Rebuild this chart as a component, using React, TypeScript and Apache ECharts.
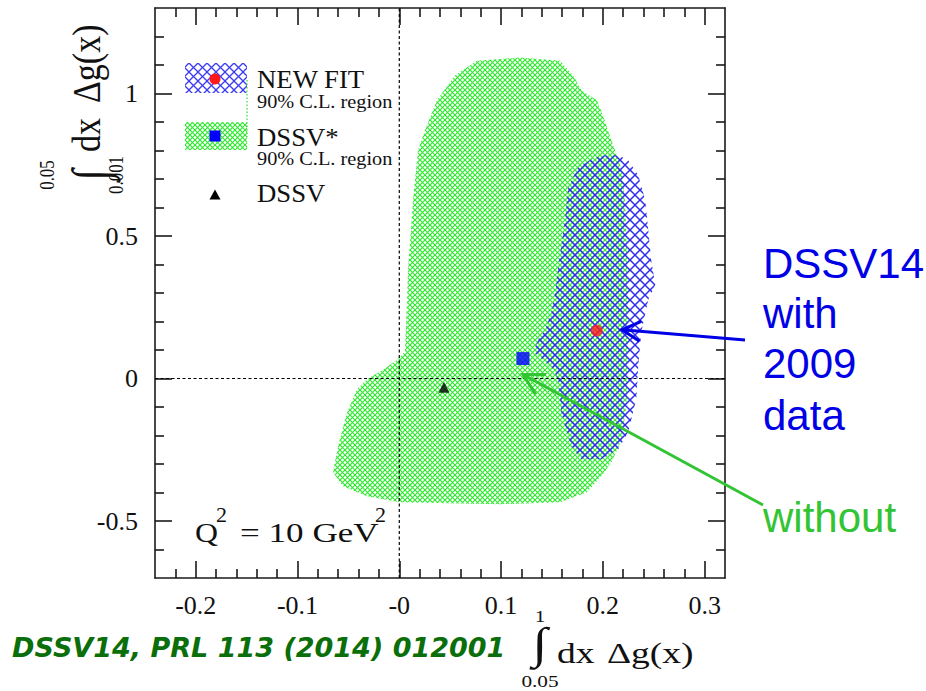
import React, { useEffect, useRef } from "react";
import * as echarts from "echarts";

// ---- axis ranges & ticks ----
const X_MIN = -0.24;
const X_MAX = 0.32;
const Y_MIN = -0.7;
const Y_MAX = 1.3;
const xMajorTicks = [-0.2, -0.1, 0, 0.1, 0.2, 0.3];
const xTickLabels = ["-0.2", "-0.1", "-0", "0.1", "0.2", "0.3"];
const xMinorTicks = [-0.22, -0.18, -0.16, -0.14, -0.12, -0.08, -0.06, -0.04, -0.02, 0.02, 0.04, 0.06, 0.08, 0.12, 0.14, 0.16, 0.18, 0.22, 0.24, 0.26, 0.28];
const yMajorTicks = [-0.5, 0, 0.5, 1];
const yTickLabels = ["-0.5", "0", "0.5", "1"];
const yMinorTicks = [-0.6, -0.4, -0.3, -0.2, -0.1, 0.1, 0.2, 0.3, 0.4, 0.6, 0.7, 0.8, 0.9, 1.1, 1.2];

// ---- DSSV* 90% C.L. region (green) ----
const greenX = [0.0763, 0.1186, 0.1579, 0.1707, 0.1795, 0.1942, 0.2001, 0.205, 0.2119, 0.2188, 0.2217, 0.2237, 0.2247, 0.2247, 0.2237, 0.2188, 0.2089, 0.2001, 0.1844, 0.1579, 0.0989, 0.0007, -0.0317, -0.0553, -0.0651, -0.0602, -0.0513, -0.0415, -0.0317, -0.016, -0.0023, 0.0056, 0.0076, 0.0085, 0.0115, 0.0135, 0.0184, 0.0253, 0.037, 0.0547];
const greenY = [1.115, 1.126, 1.115, 1.063, 1.01, 0.976, 0.923, 0.871, 0.801, 0.731, 0.626, 0.451, 0.276, 0.101, -0.073, -0.213, -0.29, -0.336, -0.399, -0.434, -0.441, -0.434, -0.413, -0.378, -0.329, -0.238, -0.119, -0.038, -0.003, 0.031, 0.066, 0.094, 0.276, 0.381, 0.521, 0.626, 0.801, 0.871, 0.976, 1.063];

// ---- NEW FIT 90% C.L. region (blue) ----
const blueX = [0.2023, 0.2151, 0.2249, 0.2348, 0.2416, 0.2446, 0.2475, 0.2515, 0.2446, 0.2377, 0.2348, 0.2328, 0.2249, 0.2151, 0.1984, 0.1788, 0.169, 0.1591, 0.1562, 0.1493, 0.1316, 0.1366, 0.1434, 0.1493, 0.1532, 0.1562, 0.1631, 0.166, 0.1759, 0.1906];
const blueY = [0.783, 0.783, 0.766, 0.713, 0.626, 0.521, 0.416, 0.329, 0.276, 0.161, 0.042, -0.073, -0.189, -0.248, -0.283, -0.283, -0.238, -0.119, -0.003, 0.042, 0.094, 0.136, 0.171, 0.231, 0.301, 0.392, 0.566, 0.671, 0.741, 0.773];

// ---- best-fit points ----
const newFitPoint = [0.194, 0.168];
const dssvStarPoint = [0.1215, 0.07];
const dssvPoint = [0.0439, -0.031];

// ---- annotation arrow tips (data coords) ----
const blueArrowTip = [0.2188, 0.171];
const greenArrowTip = [0.1215, 0.014];

const SERIF = '"Liberation Serif", "Times New Roman", serif';
const SANS = '"Liberation Sans", Arial, sans-serif';

function hatch(P: number, color: string, lw: number, bg?: string) {
  const c = document.createElement("canvas");
  c.width = P;
  c.height = P;
  const ctx = c.getContext("2d")!;
  if (bg) {
    ctx.fillStyle = bg;
    ctx.fillRect(0, 0, P, P);
  }
  ctx.strokeStyle = color;
  ctx.lineWidth = lw;
  for (const k of [-P, 0, P]) {
    ctx.beginPath();
    ctx.moveTo(k, 0);
    ctx.lineTo(k + P, P);
    ctx.stroke();
    ctx.beginPath();
    ctx.moveTo(k + P, 0);
    ctx.lineTo(k, P);
    ctx.stroke();
  }
  return { image: c, repeat: "repeat", imageWidth: P, imageHeight: P } as any;
}

function txt(text: string, x: number, baseline: number, fs: number, family: string, color: string, extra: any = {}) {
  return {
    type: "text",
    x,
    y: baseline - 0.34 * fs,
    scaleX: extra.scaleX ?? 1,
    z: 100,
    style: {
      text,
      fill: color,
      fontSize: fs,
      fontFamily: family,
      fontWeight: extra.weight ?? "normal",
      fontStyle: extra.style ?? "normal",
      align: extra.align ?? "left",
      verticalAlign: "middle",
    },
  };
}

function arrowHead(tip: number[], tail: number[], len: number, ang: number) {
  const a = Math.atan2(tail[1] - tip[1], tail[0] - tip[0]);
  return [
    [tip[0] + len * Math.cos(a + ang), tip[1] + len * Math.sin(a + ang)],
    [tip[0], tip[1]],
    [tip[0] + len * Math.cos(a - ang), tip[1] + len * Math.sin(a - ang)],
  ];
}

function labelFor(v: number, ticks: number[], labels: string[]) {
  const i = ticks.findIndex((t) => Math.abs(t - v) < 1e-9);
  return i >= 0 ? labels[i] : "";
}

const ink = "#111";
const tt = (text: string, x: number, y: number, fs: number, align = "center") => ({
  type: "text",
  x,
  y,
  z: 100,
  style: { text, fontSize: fs, fontFamily: SERIF, fill: ink, align, verticalAlign: "middle" },
});

export default function App() {
  const ref = useRef<HTMLDivElement>(null);

  useEffect(() => {
    if (!ref.current) return;
    const chart = echarts.init(ref.current, undefined, { renderer: "svg" });
    const greenPat = hatch(5, "rgb(50,232,50)", 1.2, undefined);
    const bluePat = hatch(10, "rgb(45,45,235)", 1.5, undefined);
    const greenPatL = hatch(5, "rgb(50,232,50)", 1.2, "#ffffff");
    const bluePatL = hatch(9, "rgb(60,60,240)", 1.3, "#ffffff");

    const axisLineStyle = { color: "#1a1a1a", width: 1.6 };
    const mkX = (pos: string, vals: number[], len: number, withLabel: boolean, line: boolean) => ({
      type: "value",
      position: pos,
      min: X_MIN,
      max: X_MAX,
      axisLine: { show: line, onZero: false, lineStyle: axisLineStyle },
      axisTick: { show: true, inside: true, length: len, customValues: vals, lineStyle: axisLineStyle },
      axisLabel: withLabel
        ? {
            show: true,
            customValues: xMajorTicks,
            formatter: (v: number) => labelFor(v, xMajorTicks, xTickLabels),
            fontFamily: SERIF,
            fontSize: 26,
            color: ink,
            margin: 14,
          }
        : { show: false },
      splitLine: { show: false },
    });
    const mkY = (pos: string, vals: number[], len: number, withLabel: boolean, line: boolean) => ({
      type: "value",
      position: pos,
      min: Y_MIN,
      max: Y_MAX,
      axisLine: { show: line, onZero: false, lineStyle: axisLineStyle },
      axisTick: { show: true, inside: true, length: len, customValues: vals, lineStyle: axisLineStyle },
      axisLabel: withLabel
        ? {
            show: true,
            customValues: yMajorTicks,
            formatter: (v: number) => labelFor(v, yMajorTicks, yTickLabels),
            fontFamily: SERIF,
            fontSize: 26,
            color: ink,
            margin: 17,
          }
        : { show: false },
      splitLine: { show: false },
    });

    const polygonSeries = (xs: number[], ys: number[], fill: any, z: number) => ({
      type: "custom",
      xAxisIndex: 0,
      yAxisIndex: 0,
      z,
      silent: true,
      data: [[xs[0], ys[0]]],
      renderItem: (_p: any, api: any) => ({
        type: "polygon",
        shape: { points: xs.map((x, i) => api.coord([x, ys[i]])) },
        style: { fill, stroke: "none" },
      }),
    });

    const dash = { color: "#000", width: 1.2, type: [3, 2.5] };

    chart.setOption({
      animation: false,
      grid: { left: 155, right: 201, top: 8, bottom: 113, containLabel: false },
      xAxis: [
        mkX("bottom", xMajorTicks, 17, true, true),
        mkX("bottom", xMinorTicks, 9, false, false),
        mkX("top", xMajorTicks, 17, false, true),
        mkX("top", xMinorTicks, 9, false, false),
      ],
      yAxis: [
        mkY("left", yMajorTicks, 17, true, true),
        mkY("left", yMinorTicks, 9, false, false),
        mkY("right", yMajorTicks, 17, false, true),
        mkY("right", yMinorTicks, 9, false, false),
      ],
      series: [
        polygonSeries(greenX, greenY, greenPat, 1),
        polygonSeries(blueX, blueY, bluePat, 2),
        {
          type: "line",
          z: 3,
          silent: true,
          showSymbol: false,
          data: [[0, Y_MIN], [0, Y_MAX]],
          lineStyle: dash,
        },
        {
          type: "line",
          z: 3,
          silent: true,
          showSymbol: false,
          data: [[X_MIN, 0], [X_MAX, 0]],
          lineStyle: dash,
        },
        {
          type: "scatter",
          z: 4,
          silent: true,
          data: [
            { value: newFitPoint, symbol: "circle", symbolSize: 12, itemStyle: { color: "#ff1a1a" } },
            { value: dssvStarPoint, symbol: "rect", symbolSize: 13, itemStyle: { color: "#0000ff" } },
            { value: dssvPoint, symbol: "triangle", symbolSize: 11, itemStyle: { color: "#000" } },
          ],
        },
      ],
    });

    const bTip = chart.convertToPixel({ xAxisIndex: 0, yAxisIndex: 0 }, blueArrowTip) as number[];
    const gTip = chart.convertToPixel({ xAxisIndex: 0, yAxisIndex: 0 }, greenArrowTip) as number[];
    const bTail = [745, 340];
    const gTail = [763, 505];

    const blueC = "#0000e6";
    const greenC = "#33c433";

    const graphic: any[] = [
      // legend
      { type: "rect", shape: { x: 185, y: 63, width: 62, height: 30 }, style: { fill: bluePatL }, z: 100 },
      { type: "rect", shape: { x: 185, y: 122, width: 62, height: 28 }, style: { fill: greenPatL }, z: 100 },
      { type: "line", shape: { x1: 247, y1: 80, x2: 247, y2: 137 }, style: { stroke: "#33dd33", lineWidth: 1.2, lineDash: [1.5, 2] }, z: 100 },
      { type: "circle", shape: { cx: 215, cy: 79, r: 5.5 }, style: { fill: "#ff1a1a" }, z: 101 },
      { type: "rect", shape: { x: 209.5, y: 130.5, width: 11, height: 11 }, style: { fill: "#0000ff" }, z: 101 },
      { type: "polygon", shape: { points: [[215, 189.5], [209.5, 199.5], [220.5, 199.5]] }, style: { fill: "#000" }, z: 101 },
      txt("NEW FIT", 257, 88, 25, SERIF, ink, { scaleX: 1.07 }),
      txt("90% C.L. region", 257, 108, 19, SERIF, ink, { scaleX: 1.07 }),
      txt("DSSV*", 257, 146, 25, SERIF, ink, { scaleX: 1.07 }),
      txt("90% C.L. region", 257, 165, 19, SERIF, ink, { scaleX: 1.07 }),
      txt("DSSV", 257, 202, 25, SERIF, ink, { scaleX: 1.07 }),
      // Q^2 label
      txt("Q", 195, 542, 27, SERIF, ink, { scaleX: 1.18 }),
      txt("2", 216, 522, 20, SERIF, ink, { scaleX: 1.1 }),
      txt("= 10 GeV", 240, 542, 27, SERIF, ink, { scaleX: 1.3 }),
      txt("2", 375, 522, 20, SERIF, ink, { scaleX: 1.1 }),
      // x-axis title
      {
        type: "group",
        x: 540,
        y: 646,
        scaleX: 1.25,
        children: [
          tt("∫", 0, -3, 44),
          tt("1", 0, -30, 17),
          tt("0.05", 0, 35, 17),
          tt("dx", 13.6, 17 - 0.34 * 30, 30, "left"),
          tt("Δg(x)", 53.6, 17 - 0.34 * 30, 30, "left"),
        ],
      },
      // y-axis title
      {
        type: "group",
        x: 88,
        y: 175,
        rotation: Math.PI / 2,
        scaleY: 1.2,
        children: [
          tt("∫", 0, 2, 42),
          tt("0.05", 0, -34, 17),
          tt("0.001", 0, 23, 17),
          tt("dx", 23, 10 - 0.34 * 34, 34, "left"),
          tt("Δg(x)", 72, 10 - 0.34 * 34, 34, "left"),
        ],
      },
      // citation
      txt("DSSV14, PRL 113 (2014) 012001", 12, 657, 27, '"DejaVu Sans", Verdana, sans-serif', "#0a6e0a", { weight: "bold", style: "italic" }),
      // annotations
      txt("DSSV14", 763, 278, 42, SANS, blueC),
      txt("with", 763, 328, 42, SANS, blueC),
      txt("2009", 763, 378, 42, SANS, blueC),
      txt("data", 763, 430, 42, SANS, blueC),
      txt("without", 763, 532, 42, SANS, greenC),
      // arrows
      { type: "line", shape: { x1: bTail[0], y1: bTail[1], x2: bTip[0], y2: bTip[1] }, style: { stroke: blueC, lineWidth: 3 }, z: 110 },
      { type: "polyline", shape: { points: arrowHead(bTip, bTail, 21, 0.5) }, style: { stroke: blueC, lineWidth: 3, fill: "none" }, z: 110 },
      { type: "line", shape: { x1: gTail[0], y1: gTail[1], x2: gTip[0], y2: gTip[1] }, style: { stroke: greenC, lineWidth: 3 }, z: 110 },
      { type: "polyline", shape: { points: arrowHead(gTip, gTail, 23, 0.5) }, style: { stroke: greenC, lineWidth: 3, fill: "none" }, z: 110 },
    ];

    chart.setOption({ graphic });

    return () => chart.dispose();
  }, []);

  return (
    <div
      ref={ref}
      style={{ position: "fixed", left: 0, top: 0, width: 926, height: 691, background: "#fff" }}
    />
  );
}
